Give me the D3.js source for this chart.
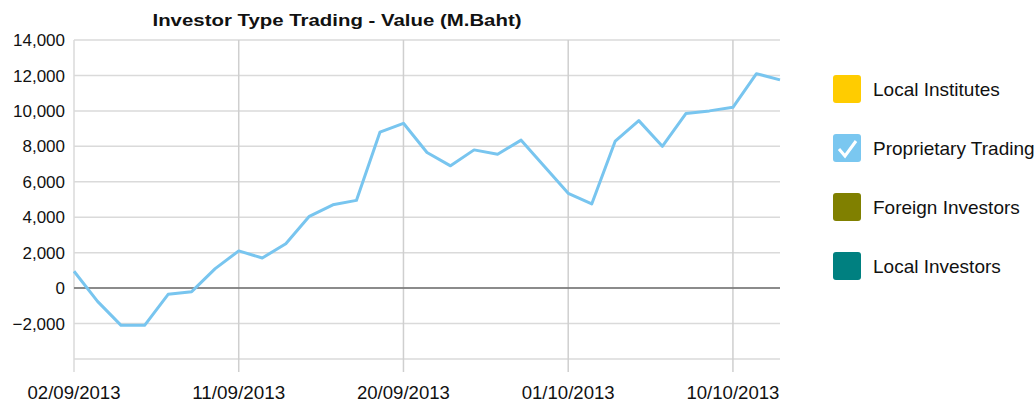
<!DOCTYPE html>
<html>
<head>
<meta charset="utf-8">
<script src="https://cdnjs.cloudflare.com/ajax/libs/d3/7.8.5/d3.min.js"></script>
<style>
  body { margin: 0; background: #fff; }
  svg { display: block; font-family: Arial, "Liberation Sans", sans-serif; }
</style>
</head>
<body>
<svg width="1034" height="403"></svg>
<script>
// trading days shown on the chart
var dates = ["02/09/2013", "03/09/2013", "04/09/2013", "05/09/2013", "06/09/2013",
  "09/09/2013", "10/09/2013", "11/09/2013", "12/09/2013", "13/09/2013",
  "16/09/2013", "17/09/2013", "18/09/2013", "19/09/2013", "20/09/2013",
  "23/09/2013", "24/09/2013", "25/09/2013", "26/09/2013", "27/09/2013",
  "30/09/2013", "01/10/2013", "02/10/2013", "03/10/2013", "04/10/2013",
  "07/10/2013", "08/10/2013", "09/10/2013", "10/10/2013", "11/10/2013",
  "14/10/2013"];

// Proprietary Trading, M.Baht
var proprietary = [950, -750, -2100, -2100, -350, -200, 1100, 2100, 1700, 2500,
  4050, 4700, 4950, 8800, 9300, 7650, 6900, 7800, 7550, 8350,
  6850, 5350, 4750, 8300, 9450, 8000, 9850, 10000, 10200, 12100,
  11750];

var xTicks = ["02/09/2013", "11/09/2013", "20/09/2013", "01/10/2013", "10/10/2013"];
var yTicks = [-2000, 0, 2000, 4000, 6000, 8000, 10000, 12000, 14000];

var legendNames = ["Local Institutes", "Proprietary Trading", "Foreign Investors", "Local Investors"];
var legendColors = ["#ffcc00", "#7ac7f0", "#808000", "#008080"];

// plot box (window.top is reserved, so use plot* names)
var svg = d3.select("svg"),
    plotLeft = 74, plotRight = 780, plotTop = 40, plotBottom = 359;

// scales
var x = d3.scalePoint().domain(dates).range([plotLeft, plotRight]);
var y = d3.scaleLinear().domain([-4000, 14000]).range([plotBottom, plotTop]);

// title
svg.append("text")
    .attr("x", 337)
    .attr("y", 26)
    .attr("text-anchor", "middle")
    .attr("font-size", 17)
    .attr("font-weight", "bold")
    .attr("fill", "#111")
    .attr("textLength", 369)
    .attr("lengthAdjust", "spacingAndGlyphs")
    .text("Investor Type Trading - Value (M.Baht)");

// horizontal grid lines
svg.append("g")
  .selectAll("line")
  .data(yTicks.concat([-4000]))
  .enter().append("line")
    .attr("x1", plotLeft)
    .attr("x2", plotRight)
    .attr("y1", function(d) { return y(d); })
    .attr("y2", function(d) { return y(d); })
    .attr("stroke", "#dadada")
    .attr("stroke-width", 1.5);

// vertical grid lines, running down past the plot as ticks
svg.append("g")
  .selectAll("line")
  .data(xTicks)
  .enter().append("line")
    .attr("x1", function(d) { return x(d); })
    .attr("x2", function(d) { return x(d); })
    .attr("y1", plotTop)
    .attr("y2", 372)
    .attr("stroke", function(d, i) { return i == 0 ? "#dadada" : "#cfcfcf"; })
    .attr("stroke-width", 1.5);

// zero line
svg.append("line")
    .attr("x1", plotLeft)
    .attr("x2", plotRight)
    .attr("y1", y(0))
    .attr("y2", y(0))
    .attr("stroke", "#6e6e6e")
    .attr("stroke-width", 1.5);

// y axis labels
svg.append("g")
    .attr("font-size", 17)
    .attr("text-anchor", "end")
    .attr("fill", "#111")
  .selectAll("text")
  .data(yTicks)
  .enter().append("text")
    .attr("x", 65)
    .attr("y", function(d) { return y(d); })
    .attr("dy", "0.36em")
    .text(d3.format(","));

// x axis labels
svg.append("g")
    .attr("font-size", 18)
    .attr("text-anchor", "middle")
    .attr("fill", "#111")
  .selectAll("text")
  .data(xTicks)
  .enter().append("text")
    .attr("x", function(d) { return x(d); })
    .attr("y", 399)
    .attr("textLength", 93)
    .attr("lengthAdjust", "spacingAndGlyphs")
    .text(function(d) { return d; });

// the series line
var line = d3.line()
    .x(function(d, i) { return x(dates[i]); })
    .y(function(d) { return y(d); });

svg.append("path")
    .datum(proprietary)
    .attr("fill", "none")
    .attr("stroke", "#78c5ef")
    .attr("stroke-width", 3)
    .attr("stroke-linejoin", "round")
    .attr("d", line);

// legend
var legend = svg.append("g")
  .selectAll("g")
  .data(legendNames)
  .enter().append("g")
    .attr("transform", function(d, i) { return "translate(833," + (75 + i * 59) + ")"; });

legend.append("rect")
    .attr("width", 28)
    .attr("height", 28)
    .attr("rx", 3)
    .attr("fill", function(d, i) { return legendColors[i]; });

legend.append("text")
    .attr("x", 40)
    .attr("y", 14)
    .attr("dy", "0.35em")
    .attr("font-size", 19)
    .attr("fill", "#111")
    .text(function(d) { return d; });

// tick mark on the visible series
legend.filter(function(d, i) { return i == 1; })
  .append("path")
    .attr("d", "M6,15L12,22L23,7")
    .attr("fill", "none")
    .attr("stroke", "#fff")
    .attr("stroke-width", 3);
</script>
</body>
</html>
